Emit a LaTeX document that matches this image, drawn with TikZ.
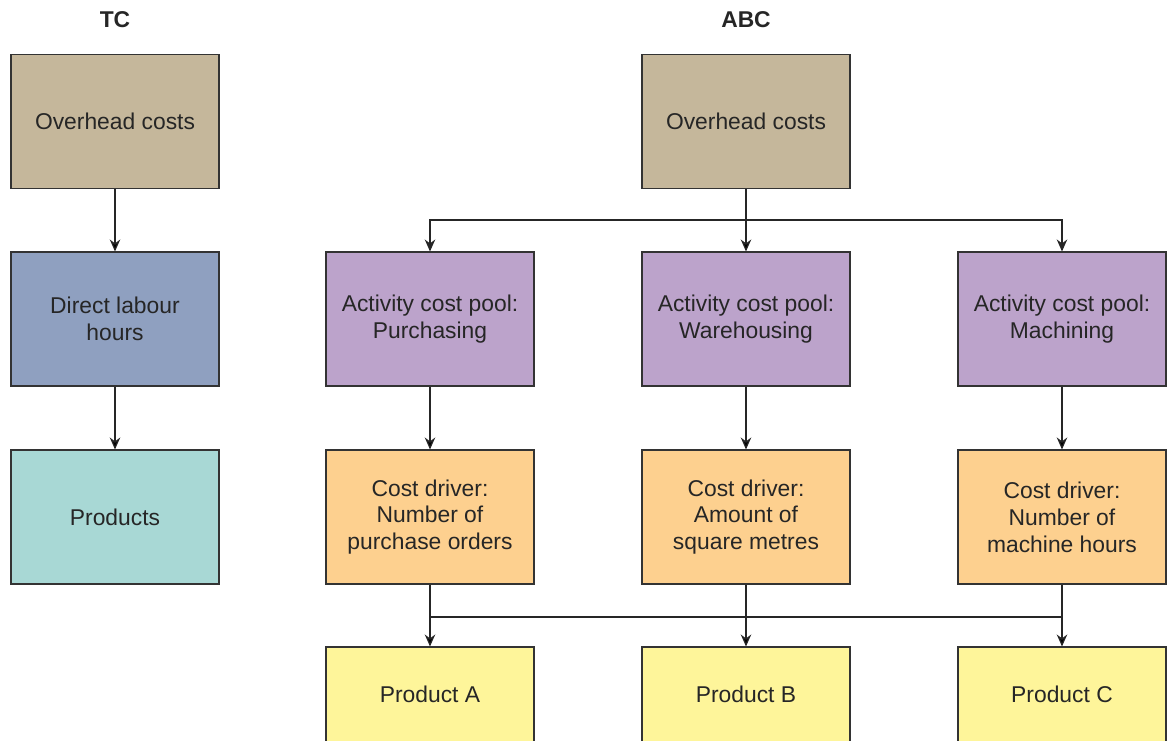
\documentclass[tikz,border=0pt]{standalone}
\usepackage{fontspec}
\setmainfont{Liberation Sans}
\usetikzlibrary{arrows.meta}
\definecolor{ohcol}{HTML}{C5B79B}
\definecolor{dlcol}{HTML}{8FA0C0}
\definecolor{prcol}{HTML}{A8D8D5}
\definecolor{accol}{HTML}{BCA3CB}
\definecolor{drcol}{HTML}{FDD08F}
\definecolor{pdcol}{HTML}{FEF59A}
\definecolor{edgecol}{HTML}{333333}
\begin{document}
\begin{tikzpicture}[
  box/.style={shape=rectangle,draw=edgecol,line width=0.6pt,minimum width=4.16cm,minimum height=2.68cm,
    align=center,text=black!85,font=\fontsize{13}{15.3}\selectfont,inner sep=0pt},
  prodbox/.style={box,minimum height=1.9cm},
  title/.style={font=\bfseries\fontsize{13}{15}\selectfont,text=black!85},
  arr/.style={draw=black!85,line width=0.7pt,-{Stealth[length=2.4mm,width=2.1mm]}},
  ln/.style={draw=black!85,line width=0.7pt}]
  \useasboundingbox (0,0) rectangle (23.34,-14.8);
  % titles
  \node[title] (tc) at (2.3,-0.4) {TC};
  \node[title] (abc) at (14.92,-0.4) {ABC};
  % traditional costing
  \node[box,fill=ohcol] (tcoh) at (2.3,-2.43) {Overhead costs};
  \node[box,fill=dlcol] (tcdl) at (2.3,-6.38) {Direct labour\\hours};
  \node[box,fill=prcol] (tcpr) at (2.3,-10.34) {Products};
  % activity based costing
  \node[box,fill=ohcol] (aboh) at (14.92,-2.43) {Overhead costs};
  \node[box,fill=accol] (act1) at (8.6,-6.38) {Activity cost pool:\\Purchasing};
  \node[box,fill=accol] (act2) at (14.92,-6.38) {Activity cost pool:\\Warehousing};
  \node[box,fill=accol] (act3) at (21.24,-6.38) {Activity cost pool:\\Machining};
  \node[box,fill=drcol] (drv1) at (8.6,-10.34) {Cost driver:\\Number of\\purchase orders};
  \node[box,fill=drcol] (drv2) at (14.92,-10.34) {Cost driver:\\Amount of\\square metres};
  \node[box,fill=drcol] (drv3) at (21.24,-10.34) {Cost driver:\\Number of\\machine hours};
  \node[prodbox,fill=pdcol] (prdA) at (8.6,-13.89) {Product A};
  \node[prodbox,fill=pdcol] (prdB) at (14.92,-13.89) {Product B};
  \node[prodbox,fill=pdcol] (prdC) at (21.24,-13.89) {Product C};
  \coordinate (split) at (14.92,-4.4);
  \coordinate (merge) at (14.92,-12.34);
  % connectors
  \path[arr] (tcoh) edge (tcdl);
  \path[arr] (tcdl) edge (tcpr);
  \path[arr] (aboh) edge (act2);
  \draw[arr] (split) -| (act1);
  \draw[arr] (split) -| (act3);
  \path[arr] (act1) edge (drv1);
  \path[arr] (act2) edge (drv2);
  \path[arr] (act3) edge (drv3);
  \path[arr] (drv1) edge (prdA);
  \path[arr] (drv2) edge (prdB);
  \path[arr] (drv3) edge (prdC);
  \draw[ln] (drv1 |- merge) -- (drv3 |- merge);
\end{tikzpicture}
\end{document}
